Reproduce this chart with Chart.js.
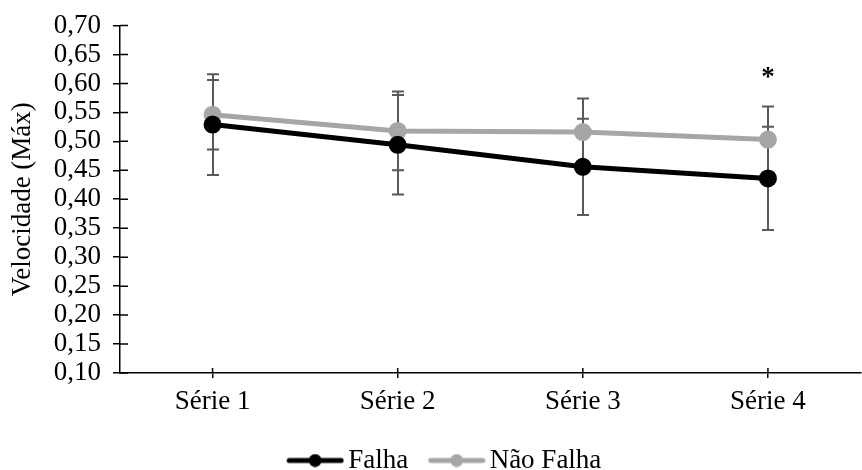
<!DOCTYPE html>
<html lang="pt">

<head>
    <meta charset="UTF-8">
    <script src="https://cdn.jsdelivr.net/npm/chart.js"></script>
    <title>Velocidade (Máx)</title>
    <style>
        html, body {
            margin: 0;
            padding: 0;
            background: white;
            overflow: hidden;
        }

        /* a bit larger than the window so the plot runs to the right edge
           and the legend sits low, as in the original */
        .wrap {
            width: 872px;
            height: 484px;
        }
    </style>
</head>

<body>
    <div class="wrap">
        <canvas id="velChart"></canvas>
    </div>

    <script>
        // Data
        var series = ['Série 1', 'Série 2', 'Série 3', 'Série 4'];
        var falha = [0.529, 0.494, 0.456, 0.436];
        var falhaSd = [0.087, 0.086, 0.083, 0.089];
        var naoFalha = [0.546, 0.518, 0.516, 0.503];
        var naoFalhaSd = [0.060, 0.068, 0.058, 0.057];
        var yTicks = [0.10, 0.15, 0.20, 0.25, 0.30, 0.35, 0.40, 0.45, 0.50, 0.55, 0.60, 0.65, 0.70];
        var starSeries = 3; // "*" above Série 4
        var starValue = 0.612;

        var FONT = 'Liberation Serif, Times New Roman, serif';
        var FS = 27;
        var LEG_PAD = 4;
        var LEG_BOX = 64;

        // legend marker: line with a dot, sitting right before the text
        function legendMark(color) {
            var c = document.createElement('canvas');
            c.width = LEG_BOX + 19;
            c.height = 14;
            var g = c.getContext('2d');
            var x1 = c.width - 55, x2 = c.width - 3;
            g.strokeStyle = color;
            g.lineWidth = 5;
            g.lineCap = 'round';
            g.beginPath();
            g.moveTo(x1, 7);
            g.lineTo(x2, 7);
            g.stroke();
            g.fillStyle = color;
            g.beginPath();
            g.arc((x1 + x2) / 2, 7, 6.5, 0, Math.PI * 2);
            g.fill();
            return c;
        }

        // error bars, inner half of tick marks and the asterisk
        var extras = {
            id: 'extras',
            beforeDatasetsDraw: function (chart) {
                var ctx = chart.ctx;
                var x = chart.scales.x, y = chart.scales.y;
                ctx.save();
                ctx.strokeStyle = '#595959';
                ctx.lineWidth = 2;
                [[falha, falhaSd], [naoFalha, naoFalhaSd]].forEach(function (s) {
                    s[0].forEach(function (v, i) {
                        var px = Math.round(x.getPixelForValue(i));
                        var top = y.getPixelForValue(v + s[1][i]);
                        var bot = y.getPixelForValue(v - s[1][i]);
                        ctx.beginPath();
                        ctx.moveTo(px, top);
                        ctx.lineTo(px, bot);
                        ctx.moveTo(px - 6, top);
                        ctx.lineTo(px + 6, top);
                        ctx.moveTo(px - 6, bot);
                        ctx.lineTo(px + 6, bot);
                        ctx.stroke();
                    });
                });
                ctx.restore();
            },
            afterDraw: function (chart) {
                var ctx = chart.ctx;
                var x = chart.scales.x, y = chart.scales.y;
                var a = chart.chartArea;
                ctx.save();
                ctx.strokeStyle = '#000';
                ctx.lineWidth = 1.5;
                ctx.beginPath();
                yTicks.forEach(function (t) {
                    var py = y.getPixelForValue(t);
                    ctx.moveTo(a.left, py);
                    ctx.lineTo(a.left + 8, py);
                });
                series.forEach(function (s, i) {
                    var px = x.getPixelForValue(i);
                    ctx.moveTo(px, a.bottom);
                    ctx.lineTo(px, a.bottom - 5);
                });
                ctx.stroke();
                ctx.fillStyle = '#000';
                ctx.font = 'bold ' + FS + 'px ' + FONT;
                ctx.textAlign = 'center';
                ctx.textBaseline = 'middle';
                ctx.fillText('*', x.getPixelForValue(starSeries), y.getPixelForValue(starValue) + 2);
                ctx.restore();
            }
        };

        var ctx = document.getElementById('velChart').getContext('2d');
        var velChart = new Chart(ctx, {
            type: 'line',
            data: {
                labels: series,
                datasets: [{
                    label: 'Falha',
                    data: falha,
                    borderColor: '#000000',
                    backgroundColor: '#000000',
                    borderWidth: 5,
                    pointRadius: 6.5,
                    pointHoverRadius: 6.5,
                    pointStyle: 'circle',
                    fill: false
                }, {
                    label: 'Não Falha',
                    data: naoFalha,
                    borderColor: '#a6a6a6',
                    backgroundColor: '#a6a6a6',
                    borderWidth: 5,
                    pointRadius: 6.5,
                    pointHoverRadius: 6.5,
                    pointStyle: 'circle',
                    fill: false
                }]
            },
            options: {
                responsive: true,
                maintainAspectRatio: false,
                animation: false,
                layout: {
                    padding: { top: 0, right: 0, left: 0, bottom: 0 }
                },
                plugins: {
                    tooltip: { enabled: false },
                    legend: {
                        position: 'bottom',
                        labels: {
                            usePointStyle: true,
                            pointStyleWidth: LEG_BOX,
                            padding: LEG_PAD,
                            color: '#000',
                            font: { family: FONT, size: FS },
                            generateLabels: function (chart) {
                                return chart.data.datasets.map(function (d, i) {
                                    return {
                                        text: d.label,
                                        pointStyle: legendMark(d.borderColor),
                                        fillStyle: d.borderColor,
                                        strokeStyle: d.borderColor,
                                        lineWidth: 0,
                                        fontColor: '#000',
                                        datasetIndex: i
                                    };
                                });
                            }
                        }
                    }
                },
                scales: {
                    x: {
                        offset: true,
                        border: { color: '#000', width: 1.5 },
                        grid: { drawOnChartArea: false, offset: false, tickLength: 5, color: '#000', lineWidth: 1.5 },
                        ticks: { color: '#000', padding: 8, autoSkip: false, maxRotation: 0, font: { family: FONT, size: FS } },
                        afterFit: function (s) { s.height = 70; }
                    },
                    y: {
                        min: 0.10,
                        max: 0.70,
                        afterBuildTicks: function (s) {
                            s.ticks = yTicks.map(function (v) { return { value: v }; });
                        },
                        border: { color: '#000', width: 1.5 },
                        grid: { drawOnChartArea: false, tickLength: 7, color: '#000', lineWidth: 1.5 },
                        ticks: {
                            color: '#000',
                            padding: 12,
                            autoSkip: false,
                            font: { family: FONT, size: FS, lineHeight: 1.0 },
                            callback: function (v) { return v.toFixed(2).replace('.', ','); }
                        },
                        title: {
                            display: true,
                            text: 'Velocidade (Máx)',
                            color: '#000',
                            padding: { top: 7, bottom: 0 },
                            font: { family: FONT, size: FS }
                        },
                        afterFit: function (s) { s.width = 120; }
                    }
                }
            },
            plugins: [extras]
        });
    </script>
</body>

</html>
